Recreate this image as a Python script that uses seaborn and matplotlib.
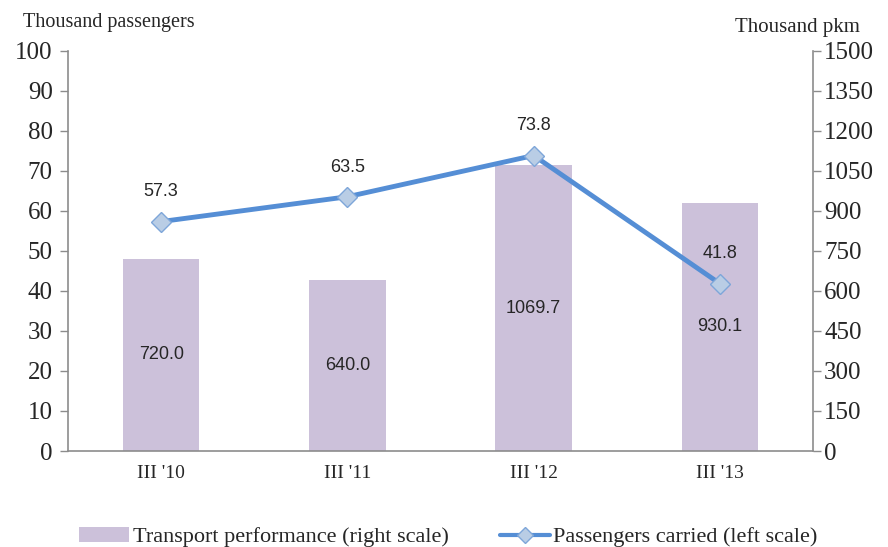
import pandas as pd
import matplotlib.pyplot as plt
import seaborn as sns
from matplotlib.lines import Line2D
from matplotlib.patches import Patch

sns.set_style("white")

quarters = ["III '10", "III '11", "III '12", "III '13"]
transport_pkm = [720.0, 640.0, 1069.7, 930.1]
passengers = [57.3, 63.5, 73.8, 41.8]

df = pd.DataFrame({"quarter": quarters, "pkm": transport_pkm, "pass": passengers})
df["pos"] = range(len(df))

serif = "Liberation Serif"
sans = "Liberation Sans"
axis_grey = "#8c8c8c"
bar_col = "#ccc1da"
line_col = "#558ed5"

fig = plt.figure(figsize=(8.88, 5.47), dpi=100)
ax = fig.add_axes([0.0766, 0.1755, 0.839, 0.732])
ax2 = ax.twinx()

sns.barplot(data=df, x="quarter", y="pkm", ax=ax2, color=bar_col, width=0.41,
            saturation=1, edgecolor="none")
sns.lineplot(data=df, x="pos", y="pass", ax=ax, color=line_col, linewidth=3.5,
             marker="D", markersize=10, markerfacecolor="#b9cde5",
             markeredgecolor="#7ea6d9", markeredgewidth=1)

ax.set_zorder(ax2.get_zorder() + 1)
ax.patch.set_visible(False)

ax.set_xlim(-0.5, 3.5)
ax.set_ylim(0, 100)
ax2.set_ylim(0, 1500)
ax.set_yticks(range(0, 101, 10))
ax2.set_yticks(range(0, 1501, 150))
ax.set_xticks(df["pos"])
ax.set_xticklabels(quarters, fontfamily=serif, fontsize=14)
ax2.set_xlabel("")
ax2.set_ylabel("")
ax.set_xlabel("")
ax.set_ylabel("")

for a in (ax, ax2):
    for s in a.spines.values():
        s.set_visible(False)
ax.spines["left"].set_visible(True)
ax.spines["bottom"].set_visible(True)
ax2.spines["right"].set_visible(True)
for s in (ax.spines["left"], ax.spines["bottom"], ax2.spines["right"]):
    s.set_color(axis_grey)
    s.set_linewidth(1.2)

ax.tick_params(axis="y", direction="out", length=6, color=axis_grey, width=1,
               labelsize=18, pad=5)
ax.tick_params(axis="x", length=0, pad=10)
ax2.tick_params(axis="y", direction="out", length=6, color=axis_grey, width=1,
                labelsize=18, pad=2)
for lab in ax.get_yticklabels() + ax2.get_yticklabels():
    lab.set_fontfamily(serif)

for i, v in enumerate(transport_pkm):
    ax2.text(i, v / 2, f"{v:.1f}", ha="center", va="center",
             fontsize=13, fontfamily=sans, color="#262626")
for i, v in enumerate(passengers):
    ax.text(i, v + 5.3, f"{v:.1f}", ha="center", va="bottom",
            fontsize=13, fontfamily=sans, color="#262626")

fig.text(0.026, 0.958, "Thousand passengers", fontfamily=serif, fontsize=14.5,
         ha="left", va="center")
fig.text(0.968, 0.949, "Thousand pkm", fontfamily=serif, fontsize=15,
         ha="right", va="center")

handles = [Patch(facecolor=bar_col, edgecolor="none"),
           Line2D([0], [0], color=line_col, linewidth=3, marker="D", markersize=8,
                  markerfacecolor="#b9cde5", markeredgecolor="#7ea6d9")]
labels = ["Transport performance (right scale)", "Passengers carried (left scale)"]
fig.legend(handles, labels, loc="center", bbox_to_anchor=(0.505, 0.018), ncol=2,
           frameon=False, prop={"family": serif, "size": 16}, columnspacing=2.3,
           handlelength=2.25, handletextpad=0.15, borderpad=0, borderaxespad=0)

fig.savefig("out.png", dpi=100)
